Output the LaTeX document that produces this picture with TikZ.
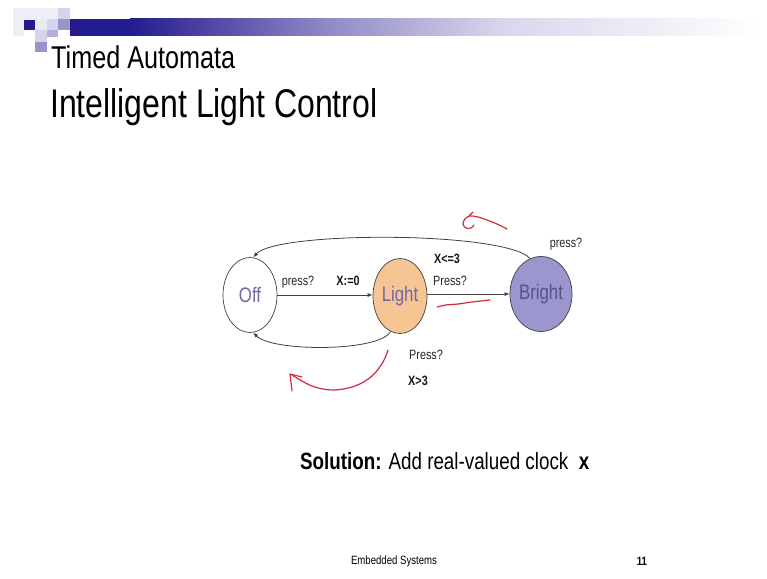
\documentclass[tikz,border=0pt]{standalone}
\usepackage{fontspec}
\setmainfont{Liberation Sans}[FakeStretch=0.8]
\usetikzlibrary{shapes.geometric,arrows.meta}
\definecolor{navy}{HTML}{241C8E}
\definecolor{barmid}{HTML}{5A52AA}
\definecolor{barlav}{HTML}{8C86C4}
\definecolor{barpale}{HTML}{D8D6EC}
\definecolor{sqpale}{HTML}{EEEEF7}
\definecolor{sqlight}{HTML}{D6D4EC}
\definecolor{sqmid}{HTML}{B4B0DC}
\definecolor{sqdark}{HTML}{9A94CC}
\definecolor{peach}{HTML}{F7C594}
\definecolor{lilac}{HTML}{9C96CE}
\definecolor{statetxt}{HTML}{6C68A8}
\definecolor{pen}{HTML}{D42A40}
\definecolor{edgegray}{HTML}{404040}
\tikzset{
  state/.style={ellipse, draw=edgegray, line width=0.7pt, minimum width=54pt, minimum height=75pt, inner sep=0pt, font=\fontsize{21}{21}\selectfont, text=statetxt},
  edge/.style={draw=edgegray, line width=0.8pt, -{Latex[length=5pt,width=4pt]}},
  lbl/.style={font=\fontsize{13.5}{13.5}\selectfont, text=black!85, inner sep=0pt},
  blbl/.style={font=\bfseries\fontsize{13.5}{13.5}\selectfont, text=black!90, inner sep=0pt},
  ink/.style={draw=pen, line width=1.2pt, line cap=round, line join=round},
}
\begin{document}
\begin{tikzpicture}[x=1pt,y=-1pt]
\useasboundingbox[fill=white] (0,0) rectangle (767,578);
% header decoration
\fill[sqpale] (13,8) rectangle (58,20);
\fill[sqpale] (13,20) rectangle (24,36);
\fill[sqlight] (58,8) rectangle (70,19);
\fill[sqlight] (47,19) rectangle (58,30);
\fill[sqpale!80!sqlight] (35,20) rectangle (47,30);
\fill[navy] (24,20) rectangle (35,30);
\fill[sqdark] (58,19) rectangle (70,30);
\fill[sqlight] (35,30) rectangle (47,42);
\fill[sqmid] (47,30) rectangle (58,37);
\fill[sqdark] (35,42) rectangle (47,52);
\fill[navy] (70,19) rectangle (130,36);
\shade[left color=navy, right color=barmid] (130,19) rectangle (230,36);
\shade[left color=barmid, right color=barlav] (230,19) rectangle (320,36);
\shade[left color=barlav, right color=barpale] (320,19) rectangle (500,36);
\shade[left color=barpale, right color=white] (500,19) rectangle (760,36);
% titles
\node[anchor=base west, inner sep=0pt, font=\fontsize{31.5}{31.5}\selectfont] (t1) at (51,68) {Timed Automata};
\node[anchor=base west, inner sep=0pt, font=\fontsize{40}{40}\selectfont] (t2) at (50,117) {Intelligent Light Control};
% states
\node[state] (off) at (250,295) {Off};
\node[state, fill=peach] (light) at (400,296) {Light};
\node[state, fill=lilac, text=statetxt!80!black] (bright) at (541,294) {Bright};
% transitions
\draw[edge] (off.east) -- (light.west |- off.east);
\draw[edge] (light.east |- bright.west) -- (bright.west);
\draw[edge] (bright.107) .. controls (505,231) and (276,231) .. (off.85);
\draw[edge] (light.255) .. controls (380,352) and (272,352) .. (off.275);
% labels
\node[lbl] (l1) at (298,282) {press?};
\node[blbl] (l2) at (348,281) {X:=0};
\node[blbl] (l3) at (447,259) {X<=3};
\node[lbl] (l4) at (450,281) {Press?};
\node[lbl] (l5) at (566,244) {press?};
\node[lbl] (l6) at (426,355) {Press?};
\node[blbl] (l7) at (418,381) {X>3};
% bottom text
\node[anchor=base west, inner sep=0pt, font=\fontsize{23.5}{23.5}\selectfont] (sol) at (300,469) {\textbf{Solution:} Add real-valued clock \ \textbf{x}};
\node[inner sep=0pt, font=\fontsize{12}{12}\selectfont] (foot) at (394,561) {Embedded Systems};
\node[inner sep=0pt, font=\bfseries\fontsize{12}{12}\selectfont] (num) at (642,561) {11};
% red pen annotations
\draw[ink] plot[smooth, tension=0.6] coordinates {(507,229) (497,224) (487,220) (478,217) (470,216) (465,219) (463,224) (466,228) (471,228) (474,225)};
\draw[ink] (469,216) -- (473,212);
\draw[ink] plot[smooth, tension=0.6] coordinates {(437,307) (446,305) (458,304) (472,302) (490,300)};
\draw[ink] plot[smooth, tension=0.6] coordinates {(388,350) (383,362) (372,376) (355,386) (333,390) (312,386) (292,375)};
\draw[ink] (302,377) -- (290,374) -- (292,391);
\end{tikzpicture}
\end{document}
